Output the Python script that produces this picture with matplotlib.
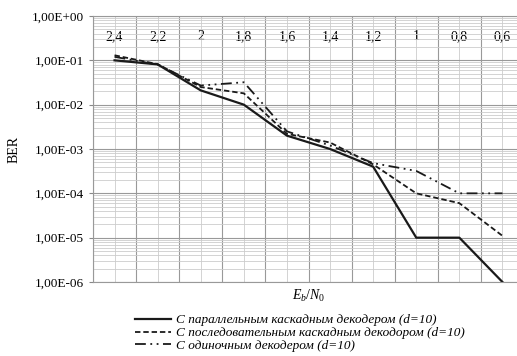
import numpy as np
import matplotlib.pyplot as plt
from matplotlib.ticker import FixedLocator, LogLocator, NullFormatter

plt.rcParams['font.family'] = ['Liberation Serif', 'DejaVu Serif']
plt.rcParams['mathtext.fontset'] = 'custom'
plt.rcParams['mathtext.rm'] = 'Liberation Serif'
plt.rcParams['mathtext.it'] = 'Liberation Serif:italic'

# Eb/N0 categories (reversed order as in the chart)
snr = ["2,4", "2,2", "2", "1,8", "1,6", "1,4", "1,2", "1", "0,8", "0,6"]

# BER of each decoder
ber_parallel = [0.10, 0.081, 0.021, 0.010, 0.0020, 0.0010, 0.00040, 1e-5, 1e-5, 1e-6]
ber_serial = [0.13, 0.082, 0.025, 0.018, 0.0022, 0.0014, 0.00045, 1e-4, 6e-5, 1.1e-5]
ber_single = [0.12, 0.080, 0.027, 0.032, 0.0025, 0.0012, 0.00048, 0.00032, 1e-4, 1e-4]

labels = ["С параллельным каскадным декодером (d=10)",
          "С последовательным каскадным декодором (d=10)",
          "С одиночным декодером (d=10)"]

fig = plt.figure(figsize=(5.17, 3.56), dpi=100)
ax = fig.add_axes([93/517, 1 - 282/356, 431/517, 266/356])

x = np.arange(len(snr))
lc = '#1a1a1a'
ax.plot(x, ber_parallel, color=lc, lw=1.6, label=labels[0])
ax.plot(x, ber_serial, color=lc, lw=1.3, dashes=(3, 1.6), label=labels[1])
ax.plot(x, ber_single, color=lc, lw=1.3, dashes=(6, 2.5, 1, 2.5, 1, 2.5), label=labels[2])

ax.set_yscale('log')
ax.set_ylim(1e-6, 1)
ax.set_xlim(-0.5, 9.5)
ax.set_yticks([10.0**(-k) for k in range(7)])
ax.set_yticklabels(["1,00E+00", "1,00E-01", "1,00E-02", "1,00E-03",
                    "1,00E-04", "1,00E-05", "1,00E-06"], fontsize=9.5)
ax.yaxis.set_minor_locator(LogLocator(base=10, subs=np.arange(2, 10), numticks=20))
ax.yaxis.set_minor_formatter(NullFormatter())

ax.set_xticks(x)
ax.set_xticklabels(snr, fontsize=10)
ax.xaxis.set_minor_locator(FixedLocator(np.arange(-0.5, 10)))
ax.tick_params(axis='x', which='both', bottom=False, top=False, labelbottom=False,
               labeltop=True, pad=-23)
ax.tick_params(axis='y', which='major', length=3, color='#888888')
ax.tick_params(axis='y', which='minor', length=0)

ax.grid(True, axis='y', which='major', color='#999999', lw=0.8)
ax.grid(True, axis='y', which='minor', color='#cccccc', lw=0.6)
ax.grid(True, axis='x', which='minor', color='#999999', lw=0.8)
ax.grid(True, axis='x', which='major', color='#cccccc', lw=0.6)
ax.set_axisbelow(True)
for s in ax.spines.values():
    s.set_color('#999999')
    s.set_linewidth(0.8)

ax.set_ylabel("BER", fontsize=10, labelpad=8)
ax.set_xlabel("$E_b/N_0$", fontsize=10, labelpad=4)

ax.legend(loc='upper left', bbox_to_anchor=(135/517, 1 - 314/356),
          bbox_transform=fig.transFigure, frameon=False, handlelength=2.7,
          handletextpad=0.4, labelspacing=0.05, borderpad=0, borderaxespad=0,
          prop={'family': 'Liberation Serif', 'style': 'italic', 'size': 9.5})

fig.savefig("out.png", dpi=100)
